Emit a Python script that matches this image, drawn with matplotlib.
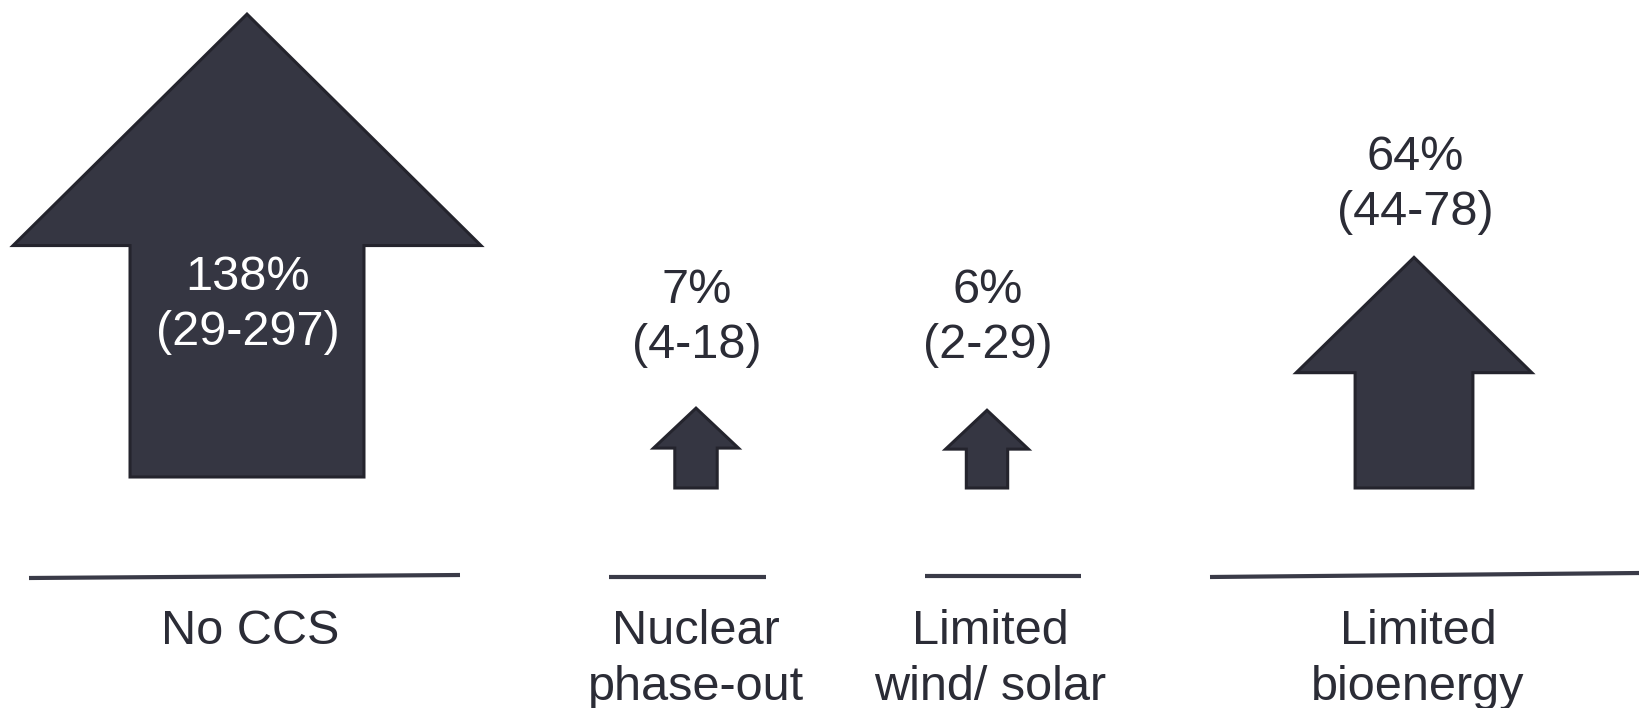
import matplotlib
matplotlib.use("Agg")
import matplotlib.pyplot as plt
from matplotlib.patches import Polygon

# Scenario data: median change and range (%)
scenarios = ["No CCS", "Nuclear\nphase-out", "Limited\nwind/ solar", "Limited\nbioenergy"]
median_pct = [138, 7, 6, 64]
range_low = [29, 4, 2, 44]
range_high = [297, 18, 29, 78]

# Layout (pixel space of a 1640x708 canvas, y pointing down)
W, H = 1640, 708
centers = [247, 696, 987, 1414]
bottoms = [477, 488, 488, 488]
value_baselines = [290, 303, 303, 170]
rule_spans = [(29, 460, 578, 575), (609, 766, 577, 577), (925, 1081, 576, 576), (1210, 1640, 577, 573)]
label_x = [250, 696, 990, 1418]
label_base = 644
label_step = 56
value_step = 55

FILL = "#353642"
EDGE = "#24242d"
TEXT = "#2b2c36"
FONT = "Liberation Sans"


def arrow_width(v):
    # arrow size grows with the median change
    return 72 + 1.37 * v ** 1.15


fig = plt.figure(figsize=(W / 100, H / 100), dpi=100)
ax = fig.add_axes([0, 0, 1, 1])
ax.set_xlim(0, W)
ax.set_ylim(H, 0)
ax.axis("off")

for i, v in enumerate(median_pct):
    cx, yb = centers[i], bottoms[i]
    w = arrow_width(v)
    h = w - 5
    pts = [
        (cx - w / 4, yb), (cx + w / 4, yb), (cx + w / 4, yb - h / 2),
        (cx + w / 2, yb - h / 2), (cx, yb - h), (cx - w / 2, yb - h / 2),
        (cx - w / 4, yb - h / 2),
    ]
    ax.add_patch(Polygon(pts, closed=True, facecolor=FILL, edgecolor=EDGE,
                         linewidth=2.2, joinstyle="miter", zorder=2))

    # the largest arrow carries its value inside the shaft, in white
    col = "white" if i == 0 else TEXT
    b1 = value_baselines[i]
    ax.text(cx + 1, b1, f"{v}%", ha="center", va="baseline", fontsize=35,
            family=FONT, color=col, zorder=3)
    ax.text(cx + 1, b1 + value_step, f"({range_low[i]}-{range_high[i]})",
            ha="center", va="baseline", fontsize=35,
            family=FONT, color=col, zorder=3)

# rules above the scenario names
for x0, x1, y0, y1 in rule_spans:
    ax.plot([x0, x1], [y0, y1], color="#3a3b48", linewidth=3, solid_capstyle="butt", zorder=1)

for i, name in enumerate(scenarios):
    for j, part in enumerate(name.split("\n")):
        ax.text(label_x[i], label_base + j * label_step, part, ha="center", va="baseline",
                fontsize=35, family=FONT, color=TEXT)

fig.savefig("out.png", dpi=100, facecolor="white")
